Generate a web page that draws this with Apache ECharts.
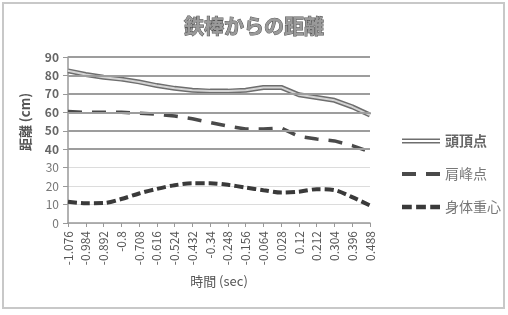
<!DOCTYPE html>
<html>
<head>
<meta charset="utf-8">
<script src="https://cdn.jsdelivr.net/npm/echarts@6/dist/echarts.min.js"></script>
<style>
  html, body { margin: 0; padding: 0; background: #fff; }
  #frame { position: absolute; left: 2px; top: 2px; width: 503px; height: 307px;
           box-sizing: border-box; border: 2px solid #c8c8c8; }
  #main { position: absolute; left: 0; top: 0; width: 508px; height: 315px; }
</style>
</head>
<body>
<div id="frame"></div>
<div id="main"></div>
<script>
var categories = ['-1.076', '-0.984', '-0.892', '-0.8', '-0.708', '-0.616', '-0.524', '-0.432', '-0.34',
  '-0.248', '-0.156', '-0.064', '0.028', '0.12', '0.212', '0.304', '0.396', '0.488'];

// 頭頂点
var headTop = [82.5, 80.5, 79, 78, 76.5, 74.5, 73, 72, 71.5, 71.5, 72, 73.5, 73.5, 69.5, 68, 66.5, 63, 58.5];
// 肩峰点
var shoulder = [60.5, 60, 60, 60, 59.5, 59, 58, 56.5, 54.5, 52.5, 51, 51, 51.5, 47, 45.5, 44.5, 42, 38.5];
// 身体重心
var centerOfMass = [11.5, 10.7, 10.8, 13, 16, 18.5, 20.5, 21.5, 21.5, 20.7, 19.2, 17.8, 16.5, 17, 18.3, 17.8, 14, 9.5];

// darker grid lines (upper half of the chart)
var heavyGrid = [40, 50, 60, 70, 80, 90];

var font = '"Noto Sans CJK JP", "Noto Sans", sans-serif';

var option = {
  animation: false,
  textStyle: { fontFamily: font },
  title: {
    text: '鉄棒からの距離',
    left: 'center',
    top: 11,
    textStyle: {
      fontFamily: font,
      fontSize: 20,
      fontWeight: 'bold',
      color: '#9a9a9a',
      textBorderColor: '#555',
      textBorderWidth: 1
    }
  },
  legend: {
    orient: 'vertical',
    left: 397,
    top: 129,
    itemWidth: 38,
    itemHeight: 14,
    itemGap: 19,
    textStyle: { fontSize: 14, color: '#777', fontFamily: font },
    data: [
      { name: '頭頂点', icon: 'path://M0,0H38V1.6H0Z M0,3.4H38V5H0Z',
        textStyle: { fontWeight: 'bold', color: '#666' } },
      { name: '肩峰点', icon: 'path://M0,0H14V4H0Z M24,0H38V4H24Z' },
      { name: '身体重心', icon: 'path://M0,0H9V4H0Z M13,0H22V4H13Z M26,0H35V4H26Z' }
    ]
  },
  grid: {
    left: 68,
    right: 138,
    top: 57,
    bottom: 92
  },
  xAxis: {
    type: 'category',
    data: categories,
    boundaryGap: false,
    name: '時間 (sec)',
    nameLocation: 'middle',
    nameGap: 52,
    nameTextStyle: { fontSize: 13, color: '#555', fontFamily: font },
    axisLine: { lineStyle: { color: '#999', width: 1.5 } },
    axisTick: { length: 4, lineStyle: { color: '#999' } },
    axisLabel: { interval: 0, rotate: 90, fontSize: 12, color: '#555', margin: 8 }
  },
  yAxis: {
    type: 'value',
    min: 0,
    max: 90,
    interval: 10,
    name: '距離 (cm)',
    nameLocation: 'middle',
    nameGap: 36,
    nameTextStyle: { fontSize: 13, color: '#555', fontWeight: 'bold', fontFamily: font,
      padding: [0, 0, 0, 36] },
    axisLine: { show: true, lineStyle: { color: '#999', width: 1.5 } },
    axisTick: { show: true, length: 5, lineStyle: { color: '#999' } },
    axisLabel: {
      fontSize: 12,
      margin: 9,
      formatter: function (v) {
        return v >= 40 ? '{b|' + v + '}' : '{n|' + v + '}';
      },
      rich: {
        b: { fontSize: 12, color: '#666', fontWeight: 'bold' },
        n: { fontSize: 12, color: '#777' }
      }
    },
    splitLine: { lineStyle: { color: '#dcdcdc', width: 1 } }
  },
  series: [
    {
      name: 'grid',
      type: 'line',
      data: [],
      z: 1,
      silent: true,
      markLine: {
        silent: true,
        symbol: 'none',
        label: { show: false },
        lineStyle: { type: 'solid', color: '#9d9d9d', width: 2 },
        data: heavyGrid.map(function (v) { return { yAxis: v }; })
      }
    },
    {
      name: '頭頂点',
      type: 'line',
      data: headTop,
      z: 3,
      symbol: 'none',
      itemStyle: { color: '#6e6e6e' },
      lineStyle: { color: '#6e6e6e', width: 5 }
    },
    {
      name: '頭頂点 inner',
      type: 'line',
      data: headTop,
      z: 4,
      symbol: 'none',
      itemStyle: { color: '#d4d4d4' },
      lineStyle: { color: '#d4d4d4', width: 2 }
    },
    {
      name: '肩峰点',
      type: 'line',
      data: shoulder,
      z: 3,
      symbol: 'none',
      itemStyle: { color: '#4a4a4a' },
      lineStyle: { color: '#4a4a4a', width: 3.5, type: [14, 10] }
    },
    {
      name: '身体重心',
      type: 'line',
      data: centerOfMass,
      z: 3,
      smooth: 0.3,
      symbol: 'none',
      itemStyle: { color: '#3a3a3a' },
      lineStyle: { color: '#3a3a3a', width: 4, type: [9, 4] }
    }
  ]
};

var chart = echarts.init(document.getElementById('main'));
chart.setOption(option);
</script>
</body>
</html>
